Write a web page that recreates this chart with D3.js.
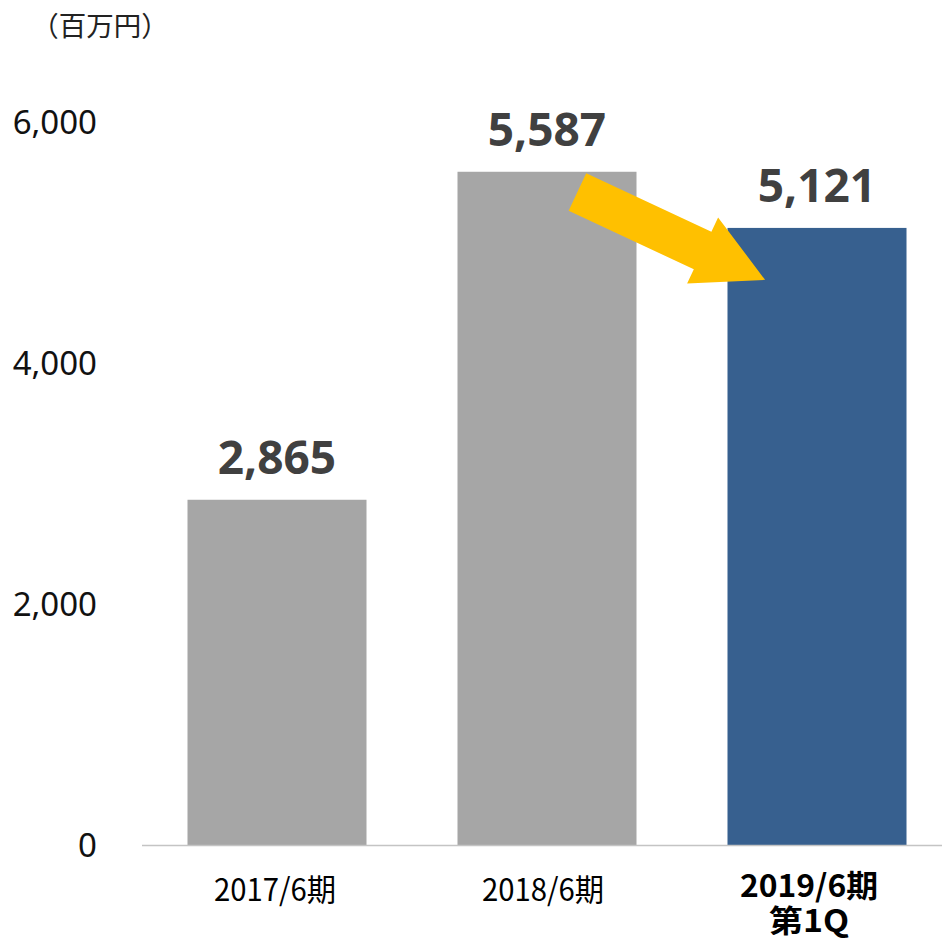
<!DOCTYPE html>
<html>
<head>
<meta charset="utf-8">
<script src="https://cdn.jsdelivr.net/npm/d3@7"></script>
<style>
  html, body { margin: 0; padding: 0; background: #ffffff; }
  svg { display: block; }
</style>
</head>
<body>
<div id="chart"></div>
<script>
// Sales by fiscal period (million yen)
const categories = ["2017/6期", "2018/6期", "2019/6期 第1Q"];
const categoryLines = [["2017/6期"], ["2018/6期"], ["2019/6期", "第1Q"]];
const values = [2865, 5587, 5121];
const valueLabels = ["2,865", "5,587", "5,121"];
const yTicks = [0, 2000, 4000, 6000];
const unitLabel = "（百万円）";
// Trend arrow from the 2018 bar down to the latest quarter
const arrowFrom = { category: "2018/6期", along: 0.67, value: 5420 };
const arrowTo = { category: "2019/6期 第1Q", along: 0.21, value: 4690 };

const width = 942, height = 945;
const svg = d3.select("#chart").append("svg")
  .attr("width", width).attr("height", height);

const x = d3.scaleBand()
  .domain(categories)
  .range([142, 952])
  .paddingInner(0.337)
  .paddingOuter(0.1685);

const y = d3.scaleLinear().domain([0, 6000]).range([845, 122]);

const barColors = ["#a6a6a6", "#a6a6a6", "#37608f"];

// Bars
svg.append("g").selectAll("rect")
  .data(values)
  .join("rect")
  .attr("x", (d, i) => x(categories[i]))
  .attr("y", d => y(d))
  .attr("width", x.bandwidth())
  .attr("height", d => y(0) - y(d))
  .attr("fill", (d, i) => barColors[i]);

// Baseline
svg.append("line")
  .attr("x1", 142).attr("x2", width)
  .attr("y1", y(0) + 0.5).attr("y2", y(0) + 0.5)
  .attr("stroke", "#c4c4c4").attr("stroke-width", 1.5);

// Y axis tick labels
const yAxis = d3.axisLeft(y).tickValues(yTicks).tickSize(0).tickPadding(0)
  .tickFormat(d3.format(","));
const gy = svg.append("g").attr("transform", "translate(97,0)").call(yAxis);
gy.select(".domain").remove();
gy.selectAll("text")
  .attr("font-family", "'Noto Sans', sans-serif")
  .attr("font-size", 33)
  .attr("fill", "#111111")
  .attr("dy", "0.36em");

// Unit label
svg.append("text")
  .attr("x", 100).attr("y", 36)
  .attr("text-anchor", "middle")
  .attr("font-family", "'Noto Sans CJK JP', sans-serif")
  .attr("font-size", 27.5)
  .attr("fill", "#222222")
  .text(unitLabel);

// Value labels
svg.append("g").selectAll("text")
  .data(values)
  .join("text")
  .attr("x", (d, i) => x(categories[i]) + x.bandwidth() / 2)
  .attr("y", d => y(d) - 26)
  .attr("text-anchor", "middle")
  .attr("font-family", "'Noto Sans', sans-serif")
  .attr("font-weight", 700)
  .attr("font-size", 46)
  .attr("fill", "#404040")
  .text((d, i) => valueLabels[i]);

// Category labels (condensed, the latest one in bold on two lines)
const catG = svg.append("g");
const lineWidths = [[122], [122], [138, 80]];
const catOffsets = [-2, -4, -8];
categoryLines.forEach((lines, i) => {
  const cx = x(categories[i]) + x.bandwidth() / 2 + catOffsets[i];
  const bold = i === categoryLines.length - 1;
  const label = catG.append("text")
    .attr("x", cx)
    .attr("y", bold ? 897 : 901)
    .attr("text-anchor", "middle")
    .attr("font-family", "'Noto Sans CJK JP', sans-serif")
    .attr("font-weight", bold ? 700 : 400)
    .attr("font-size", 31)
    .attr("fill", "#000000");
  lines.forEach((t, j) => {
    label.append("tspan")
      .attr("x", cx)
      .attr("dy", j === 0 ? 0 : 35)
      .attr("textLength", lineWidths[i][j])
      .attr("lengthAdjust", "spacingAndGlyphs")
      .text(t);
  });
});

// Arrow annotation
const p0 = [x(arrowFrom.category) + x.bandwidth() * arrowFrom.along, y(arrowFrom.value)];
const p1 = [x(arrowTo.category) + x.bandwidth() * arrowTo.along, y(arrowTo.value)];
const dx = p1[0] - p0[0], dy = p1[1] - p0[1];
const len = Math.hypot(dx, dy);
const u = [dx / len, dy / len];
const n = [-u[1], u[0]];
const shaftHalf = 20.7, headHalf = 36.5, headLen = 69;
const base = [p1[0] - u[0] * headLen, p1[1] - u[1] * headLen];
const pt = (p, k) => [p[0] + n[0] * k, p[1] + n[1] * k];
const arrowPts = [
  pt(p0, -shaftHalf),
  pt(base, -shaftHalf),
  pt(base, -headHalf),
  p1,
  pt(base, headHalf),
  pt(base, shaftHalf),
  pt(p0, shaftHalf)
];
svg.append("path")
  .attr("d", d3.line()(arrowPts) + "Z")
  .attr("fill", "#ffc000");
</script>
</body>
</html>
